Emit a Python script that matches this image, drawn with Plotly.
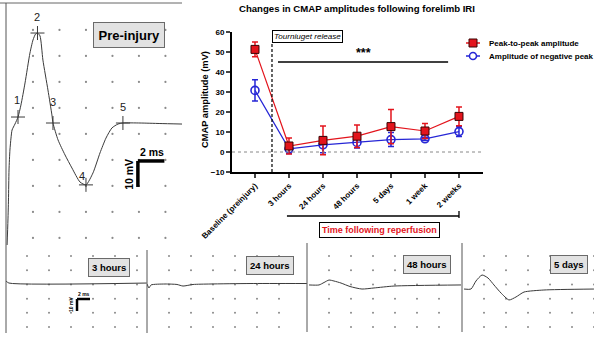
import numpy as np
import plotly.graph_objects as go

W, H = 594, 339
FONT = "Liberation Sans, Arial, Helvetica, sans-serif"

# ---------------- CMAP chart data ----------------
categories = ["Baseline (preinjury)", "3 hours", "24 hours", "48 hours", "5 days", "1 week", "2 weeks"]
p2p_mean = [51.3, 3.0, 5.8, 7.9, 12.7, 10.5, 17.8]
p2p_err = [3.7, 4.0, 7.2, 5.6, 8.6, 3.8, 4.7]
neg_mean = [30.8, 1.6, 3.6, 4.8, 6.2, 6.6, 10.2]
neg_err = [5.3, 2.3, 4.0, 2.8, 3.5, 0.8, 2.4]
y_ticks = [-10, 0, 10, 20, 30, 40, 50, 60]
tourniquet_x = 0.5
sig_start, sig_end, sig_level = 0.676, 5.68, 45

# ---------------- Pre-injury waveform (ms, mV) ----------------
pre_t = [0.04, 0.11, 0.15, 0.19, 0.26, 0.34, 0.42, 0.64, 0.87, 1.09, 1.40, 1.77, 2.00, 2.19, 2.34,
         2.53, 2.75, 3.13, 3.43, 3.51, 3.89, 4.42, 4.94, 5.55, 6.00, 6.53, 7.06, 7.51, 7.96, 8.42,
         8.79, 10.08, 11.58, 13.25]
pre_v = [-47.7, -37.3, -29.6, -18.1, -10.4, -5.8, -2.7, -0.4, 2.3, 6.9, 15.4, 26.9, 31.9, 34.2, 34.6,
         33.5, 24.2, 12.7, 3.1, 0.0, -6.5, -12.3, -17.3, -22.7, -23.8, -19.2, -11.5, -5.8, -1.9, -0.4,
         0.0, 0.0, -0.2, -0.4]
mark_t = [0.87, 2.34, 3.51, 6.00, 8.79]
mark_v = [2.3, 34.6, 0.0, -23.8, 0.0]
mark_labels = ["1", "2", "3", "4", "5"]

# ---------------- Post-injury waveforms (ms, mV) ----------------
h3_t = [0.15, 0.6, 21.8]
h3_v = [2.5, 0.8, 0.8]
h24_t = [0, 0.31, 0.62, 2.77, 4.62, 5.54, 7.08, 9.69, 15.85, 24.6]
h24_v = [0, -3.3, -0.8, 0, -0.4, -1.7, -0.4, 0, 0.4, 0.4]
h48_t = [0.31, 1.85, 2.62, 3.38, 4.15, 5.23, 6.62, 8.46, 10.31, 13.38, 23.69]
h48_v = [-0.8, -0.8, 1.25, 3.3, 2.5, 0.8, -2.1, -4.2, -3.3, -1.7, -0.8]
d5_t = [0.31, 1.38, 2.15, 3.08, 4.0, 4.92, 6.0, 7.23, 8.31, 9.54, 12.6, 20.3]
d5_v = [-4.2, -4.2, 2.5, 7.5, 5.0, -0.8, -7.5, -13.3, -10.8, -6.7, -5.0, -4.2]
panel_labels = ["3 hours", "24 hours", "48 hours", "5 days"]


def PX(x):
    return x / W


def PY(y):
    return 1 - y / H


fig = go.Figure()
shapes = []
ann = []

RED = "#e3141c"
BLUE = "#2626d6"
TRACE = "#3a3a3a"
DOT = "#8a8a8a"

# ======== CMAP chart (x / y) ========
xi = list(range(len(categories)))
fig.add_trace(go.Scatter(
    x=xi, y=neg_mean, mode="lines+markers", xaxis="x", yaxis="y",
    line=dict(color=BLUE, width=1.2),
    marker=dict(symbol="circle-open", size=8, color=BLUE, line=dict(width=1.6, color=BLUE)),
    error_y=dict(type="data", array=neg_err, color=BLUE, thickness=1.5, width=3)))
fig.add_trace(go.Scatter(
    x=xi, y=p2p_mean, mode="lines+markers", xaxis="x", yaxis="y",
    line=dict(color=RED, width=1.2),
    marker=dict(symbol="square", size=8, color=RED, line=dict(width=1, color="#3a0505")),
    error_y=dict(type="data", array=p2p_err, color=RED, thickness=1.5, width=3)))

shapes += [
    dict(type="line", xref="x domain", yref="y", x0=0, x1=1, y0=0, y1=0,
         line=dict(color="#888", width=1, dash="dot")),
    dict(type="line", xref="x", yref="y", x0=tourniquet_x, x1=tourniquet_x, y0=-10, y1=54.5,
         line=dict(color="black", width=1.2, dash="3px,2px")),
    dict(type="line", xref="x", yref="y", x0=sig_start, x1=sig_end, y0=sig_level, y1=sig_level,
         line=dict(color="black", width=1.6)),
    dict(type="line", xref="x", yref="paper", x0=0.94, x1=6.0, y0=PY(216), y1=PY(216),
         line=dict(color="black", width=1.3)),
    dict(type="line", xref="x", yref="paper", x0=6.0, x1=6.0, y0=PY(211), y1=PY(218),
         line=dict(color="black", width=1.3)),
]
ann += [
    dict(text="<b>Changes in CMAP amplitudes following forelimb IRI</b>", xref="paper", yref="paper",
         x=PX(357), y=PY(8), xanchor="center", yanchor="middle", showarrow=False, font=dict(size=9.6)),
    dict(text="<b>CMAP amplitude (mV)</b>", xref="paper", yref="paper", x=PX(205), y=PY(100),
         xanchor="center", yanchor="middle", textangle=-90, showarrow=False, font=dict(size=9.3)),
    dict(text="<i>Tourniuget release</i>", xref="x", yref="y", x=tourniquet_x, y=54.5,
         xanchor="left", yanchor="bottom", showarrow=False, font=dict(size=8.1),
         bordercolor="black", borderwidth=1, borderpad=1, bgcolor="white"),
    dict(text="<b>***</b>", xref="x", yref="y", x=(sig_start + sig_end) / 2, y=sig_level,
         xanchor="center", yanchor="bottom", showarrow=False, font=dict(size=12.5)),
    dict(text="<b>Time following reperfusion</b>", xref="x", yref="paper", x=3.66, y=PY(230),
         xanchor="center", yanchor="middle",
         showarrow=False, font=dict(size=9, color=RED), bordercolor="black", borderwidth=1,
         borderpad=2, bgcolor="white"),
]
# custom legend
for row_y, name, col, sym in [(43, "Peak-to-peak amplitude", RED, "sq"),
                              (56, "Amplitude of negative peak", BLUE, "ci")]:
    shapes.append(dict(type="line", xref="paper", yref="paper", x0=PX(466), x1=PX(480),
                       y0=PY(row_y), y1=PY(row_y), line=dict(color=col, width=1.5)))
    if sym == "sq":
        shapes.append(dict(type="rect", xref="paper", yref="paper", x0=PX(469), x1=PX(477),
                           y0=PY(47), y1=PY(39), fillcolor=col, line=dict(color="#3a0505", width=1)))
    else:
        shapes.append(dict(type="circle", xref="paper", yref="paper", x0=PX(469.5), x1=PX(476.5),
                           y0=PY(59.5), y1=PY(52.5), fillcolor="white", line=dict(color=col, width=1.5)))
    ann.append(dict(text="<b>" + name + "</b>", xref="paper", yref="paper", x=PX(487), y=PY(row_y),
                    xanchor="left", yanchor="middle", showarrow=False, font=dict(size=8)))

# ======== Pre-injury panel (x2 / y2) ========
gx, gy = np.meshgrid(np.arange(2, 13, 2), 35.8 - 10 * np.arange(9))
fig.add_trace(go.Scatter(x=gx.ravel(), y=gy.ravel(), mode="markers", xaxis="x2", yaxis="y2",
                         marker=dict(size=2.2, color=DOT), hoverinfo="skip"))
fig.add_trace(go.Scatter(x=pre_t, y=pre_v, mode="lines", xaxis="x2", yaxis="y2",
                         line=dict(color=TRACE, width=1, shape="spline", smoothing=0.6)))
fig.add_trace(go.Scatter(x=mark_t, y=mark_v, mode="markers", xaxis="x2", yaxis="y2",
                         marker=dict(symbol="cross-thin", size=10, line=dict(width=1, color=TRACE))))
label_shift = [(-1, 17), (0, 16), (0, 21), (-4, 9), (0, 16)]
for t, v, lab, (dx, dy) in zip(mark_t, mark_v, mark_labels, label_shift):
    ann.append(dict(text=lab, xref="x2", yref="y2", x=t, y=v, xshift=dx, yshift=dy, showarrow=False,
                    xanchor="center", yanchor="middle", font=dict(size=11, color="#222")))
# scale bar (2 ms, 10 mV)
sb_t, sb_v = 9.92, -14.6
shapes += [
    dict(type="line", xref="x2", yref="y2", x0=sb_t, x1=sb_t + 2, y0=sb_v, y1=sb_v,
         line=dict(color="black", width=3.5)),
    dict(type="line", xref="x2", yref="y2", x0=sb_t, x1=sb_t, y0=sb_v, y1=sb_v - 10,
         line=dict(color="black", width=3.5)),
]
ann += [
    dict(text="<b>2 ms</b>", xref="x2", yref="y2", x=sb_t + 1.1, y=sb_v, xanchor="center",
         yanchor="bottom", yshift=1, showarrow=False, font=dict(size=10.5)),
    dict(text="<b>10 mV</b>", xref="x2", yref="y2", x=sb_t, y=sb_v - 5, xanchor="right",
         yanchor="middle", xshift=-1, textangle=-90, showarrow=False, font=dict(size=10.5)),
    dict(text="<b>Pre-injury</b>", xref="paper", yref="paper", x=PX(128.5), y=PY(35.5),
         xanchor="center", yanchor="middle", showarrow=False,
         font=dict(size=13), bgcolor="#e2e2e2", bordercolor="#6a6a6a", borderwidth=1, borderpad=4.5),
]
# frame lines of the recording window
shapes += [
    dict(type="line", xref="paper", yref="paper", x0=0, x1=PX(182), y0=PY(3), y1=PY(3),
         line=dict(color="#666", width=1)),
    dict(type="line", xref="paper", yref="paper", x0=PX(6), x1=PX(6), y0=PY(3), y1=PY(333),
         line=dict(color="#555", width=1)),
]

# ======== Post-injury panels (x3..x6 / y3..y6) ========
panel_px = [(5, 147), (147, 307), (307, 462), (462, 594)]
label_boxes = [(109, 267), (269.5, 265.5), (426.5, 264), (569, 264)]
waves = [(h3_t, h3_v), (h24_t, h24_v), (h48_t, h48_v), (d5_t, d5_v)]
PXMS, PXMV, ZERO_PY = 6.5, 1.2, 284
layout_axes = {}
for i, ((a, b), (wt, wv), lab, (bx, by)) in enumerate(zip(panel_px, waves, panel_labels, label_boxes)):
    n = i + 3
    xa, ya = "x%d" % n, "y%d" % n
    layout_axes["xaxis%d" % n] = dict(domain=[PX(a), PX(b)], range=[0, (b - a) / PXMS], visible=False,
                                      anchor=ya, automargin=False)
    layout_axes["yaxis%d" % n] = dict(domain=[0, PY(243)],
                                      range=[(ZERO_PY - H) / PXMV, (ZERO_PY - 243) / PXMV],
                                      visible=False, anchor=xa, automargin=False)
    dgx, dgy = np.meshgrid((22 / PXMS) * np.arange(1, 7), 23.3 - 11.83 * np.arange(6))
    fig.add_trace(go.Scatter(x=dgx.ravel(), y=dgy.ravel(), mode="markers", xaxis=xa, yaxis=ya,
                             marker=dict(size=2, color=DOT), hoverinfo="skip"))
    fig.add_trace(go.Scatter(x=wt, y=wv, mode="lines", xaxis=xa, yaxis=ya,
                             line=dict(color=TRACE, width=1, shape="spline", smoothing=0.6)))
    ann.append(dict(text="<b>" + lab + "</b>", xref="paper", yref="paper", x=PX(bx), y=PY(by),
                    xanchor="center", yanchor="middle",
                    showarrow=False, font=dict(size=9.5), bgcolor="#e2e2e2", bordercolor="#6a6a6a",
                    borderwidth=1, borderpad=3))
# stimulus artefacts / separators
for x, y0, y1 in [(147, 250, 333), (307, 243, 332), (462, 243, 332)]:
    shapes.append(dict(type="line", xref="paper", yref="paper", x0=PX(x), x1=PX(x), y0=PY(y0), y1=PY(y1),
                       line=dict(color="#555", width=1)))
# small scale bar in 3 hours panel
s_t, s_v = 11.08, -12.5
shapes += [
    dict(type="line", xref="x3", yref="y3", x0=s_t, x1=s_t + 2, y0=s_v, y1=s_v, line=dict(color="black", width=2.5)),
    dict(type="line", xref="x3", yref="y3", x0=s_t, x1=s_t, y0=s_v, y1=s_v - 10, line=dict(color="black", width=2.5)),
]
ann += [
    dict(text="<b>2 ms</b>", xref="x3", yref="y3", x=s_t + 1.1, y=s_v, xanchor="center", yanchor="bottom",
         showarrow=False, font=dict(size=5)),
    dict(text="<b>10 mV</b>", xref="x3", yref="y3", x=s_t, y=s_v - 5, xanchor="right", yanchor="middle",
         xshift=-1, textangle=-90, showarrow=False, font=dict(size=5)),
]

fig.update_layout(
    template="none",
    width=W, height=H, margin=dict(l=0, r=0, t=0, b=0, pad=0), autosize=False,
    paper_bgcolor="white", plot_bgcolor="rgba(0,0,0,0)", showlegend=False,
    font=dict(family=FONT, color="black"),
    xaxis=dict(domain=[PX(232), PX(483)], range=[-0.676, 6.706], tickmode="array", tickvals=xi,
               ticktext=categories, tickangle=-45, ticks="outside", ticklen=4, tickwidth=1.5,
               showline=True, linewidth=2, linecolor="black", showgrid=False, zeroline=False,
               tickfont=dict(size=8, weight="bold"), anchor="y", automargin=False),
    yaxis=dict(domain=[PY(172), PY(32)], range=[-10, 60], tickvals=y_ticks, ticks="outside", ticklen=4,
               tickwidth=1.5, showline=True, linewidth=2, linecolor="black", showgrid=False,
               zeroline=False, tickfont=dict(size=8, weight="bold"), anchor="x", automargin=False),
    xaxis2=dict(domain=[0, PX(182)], range=[-0.49, 13.25], visible=False, anchor="y2", automargin=False),
    yaxis2=dict(domain=[PY(245), PY(3)], range=[-46.92, 46.15], visible=False, anchor="x2", automargin=False),
    **layout_axes,
    shapes=shapes, annotations=ann,
)

fig.write_html("out.html", config={"displayModeBar": False},
               post_script="document.body.style.margin='0';document.body.style.overflow='hidden';")
